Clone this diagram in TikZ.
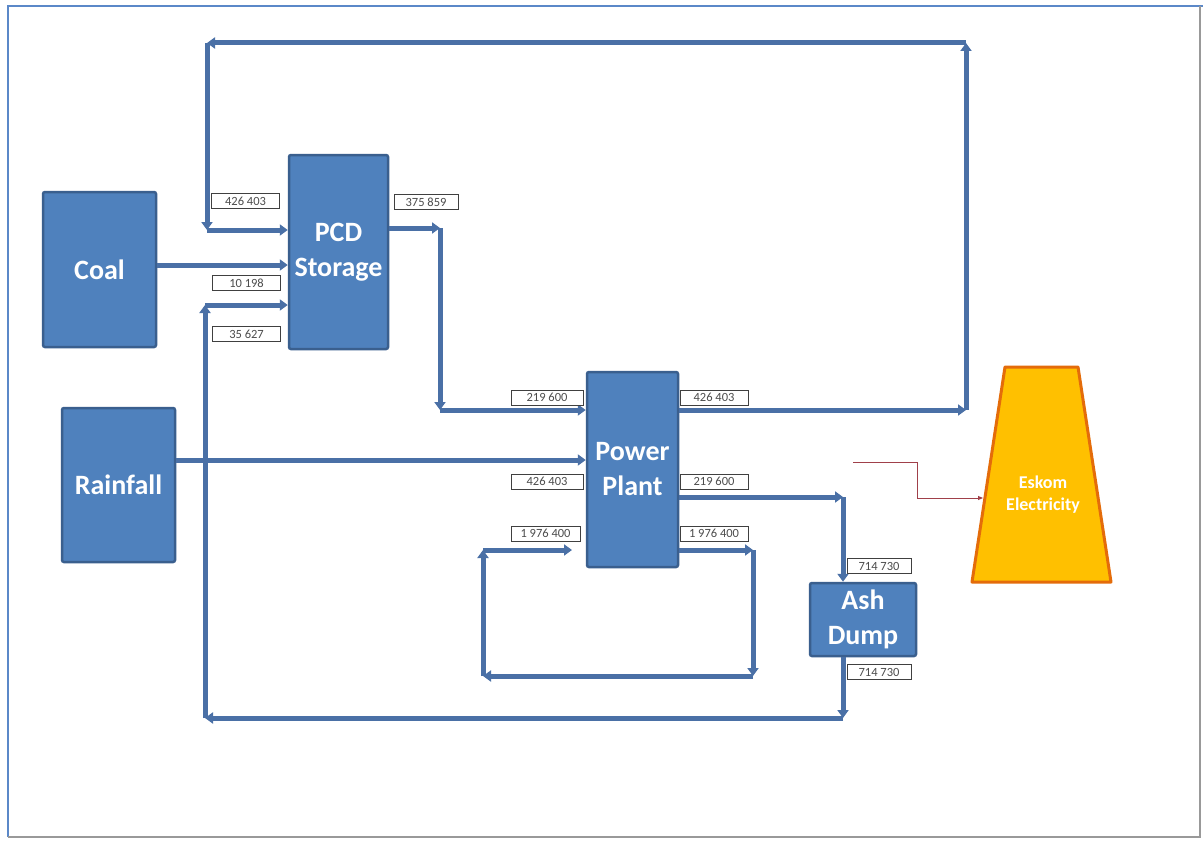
\documentclass[tikz,border=0pt]{standalone}
\usepackage{fontspec}
\setmainfont{Carlito}
\usetikzlibrary{arrows.meta}
\definecolor{boxfill}{HTML}{4F81BD}
\definecolor{boxdraw}{HTML}{3A5F8E}
\definecolor{flowc}{HTML}{4A70A6}
\definecolor{eskfill}{HTML}{FFC000}
\definecolor{eskdraw}{HTML}{E46C0A}
\definecolor{redline}{HTML}{A0404A}
\definecolor{framec}{HTML}{5B88C8}
\tikzset{
  blk/.style={draw=boxdraw, line width=2.5pt, fill=boxfill, rounded corners=2pt,
    text=white, font=\fontsize{28}{35}\selectfont\bfseries, align=center, inner sep=0pt},
  flow/.style={draw=flowc, line width=5pt, -{Triangle[length=8pt,width=11pt]}},
  lbl/.style={draw=black!75, line width=0.8pt, fill=white, text=black!70,
    font=\fontsize{12.5}{12.5}\selectfont, minimum width=68pt, minimum height=15pt, inner sep=0.5pt},
}
\begin{document}
\begin{tikzpicture}[x=1pt,y=-1pt]
\useasboundingbox (0,0) rectangle (1203,843);
\fill[white] (0,0) rectangle (1203,843);
% frame
\draw[framec, line width=1.5pt] (8,837) -- (8,6) -- (1203,6);
\draw[black!40, line width=2pt] (8,837) -- (1200,837) -- (1200,6);

% blocks
\node[blk, minimum width=113pt, minimum height=155pt] (coal) at (99.5,269.5) {Coal};
\node[blk, minimum width=113pt, minimum height=154pt] (rain) at (118.5,485) {Rainfall};
\node[blk, minimum width=99pt, minimum height=194pt] (pcd) at (338.5,252) {PCD\\Storage};
\node[blk, minimum width=91pt, minimum height=195pt] (pp) at (632.5,469.5) {Power\\Plant};
\node[blk, minimum width=106pt, minimum height=73pt] (ash) at (863,619.5) {Ash\\Dump};

% Eskom
\draw[eskdraw, fill=eskfill, line width=3pt, line join=round] (1005,367) -- (1078,367) -- (1111,582) -- (972,582) -- cycle;
\node[text=white, font=\fontsize{18}{22}\selectfont\bfseries, align=center] (eskom) at (1043,495) {Eskom\\Electricity};

% coordinates
\coordinate (t1) at (966,410);
\coordinate (t2) at (966,43);
\coordinate (t3) at (207,43);
\coordinate (t4) at (207,230);
\coordinate (p1) at (440,228);
\coordinate (p2) at (440,410);
\coordinate (a1) at (843,497);
\coordinate (r1) at (843,718);
\coordinate (r2) at (205,718);
\coordinate (r3) at (205,305);
\coordinate (c1) at (753,550);
\coordinate (c2) at (753,676);
\coordinate (c3) at (483,676);
\coordinate (c4) at (483,550);
\coordinate (c5) at (572,550);
\coordinate (e0) at (853,462);
\coordinate (e1) at (917,462);
\coordinate (e2) at (917,498);
\coordinate (e3) at (983,498);

% top loop PP -> PCD
\draw[flow] (pp.east |- t1) -- (t1);
\draw[flow] (t1) -- (t2);
\draw[flow] (t2) -- (t3);
\draw[flow] (t3) -- (t4);
\draw[flow] (t4) -- (pcd.west |- t4);
% coal
\draw[flow] (coal.east |- 0,265) -- (pcd.west |- 0,265);
% ash return
\draw[flow] (ash.south -| r1) -- (r1);
\draw[flow] (r1) -- (r2);
\draw[flow] (r2) -- (r3);
\draw[flow] (r3) -- (pcd.west |- r3);
% PCD -> PP
\draw[flow] (pcd.east |- p1) -- (p1);
\draw[flow] (p1) -- (p2);
\draw[flow] (p2) -- (pp.west |- p2);
% rainfall
\draw[flow] (rain.east |- 0,460) -- (pp.west |- 0,460);
% PP -> ash
\draw[flow] (pp.east |- a1) -- (a1);
\draw[flow] (a1) -- (ash.north -| a1);
% recycle
\draw[flow] (pp.east |- c1) -- (c1);
\draw[flow] (c1) -- (c2);
\draw[flow] (c2) -- (c3);
\draw[flow] (c3) -- (c4);
\draw[flow] (c4) -- (c5);
% thin line to Eskom
\draw[redline, line width=0.9pt, -{Triangle[length=5pt,width=4pt]}] (e0) -- (e1) -- (e2) -- (e3);

% labels
\node[lbl] (l1) at (245.5,201) {426 403};
\node[lbl] (l2) at (246.5,283) {10 198};
\node[lbl] (l3) at (246.5,334) {35 627};
\node[lbl, minimum width=64pt] (l4) at (426,202) {375 859};
\node[lbl, minimum width=72pt] (l5) at (547,397.5) {219 600};
\node[lbl, minimum width=72pt] (l6) at (547,481.5) {426 403};
\node[lbl, minimum width=69pt] (l7) at (545.5,533.5) {1 976 400};
\node[lbl] (l8) at (714,397.5) {426 403};
\node[lbl] (l9) at (714,481.5) {219 600};
\node[lbl] (l10) at (714,533.5) {1 976 400};
\node[lbl, minimum width=64pt] (l11) at (879,566) {714 730};
\node[lbl, minimum width=64pt] (l12) at (879,672) {714 730};
\end{tikzpicture}
\end{document}
